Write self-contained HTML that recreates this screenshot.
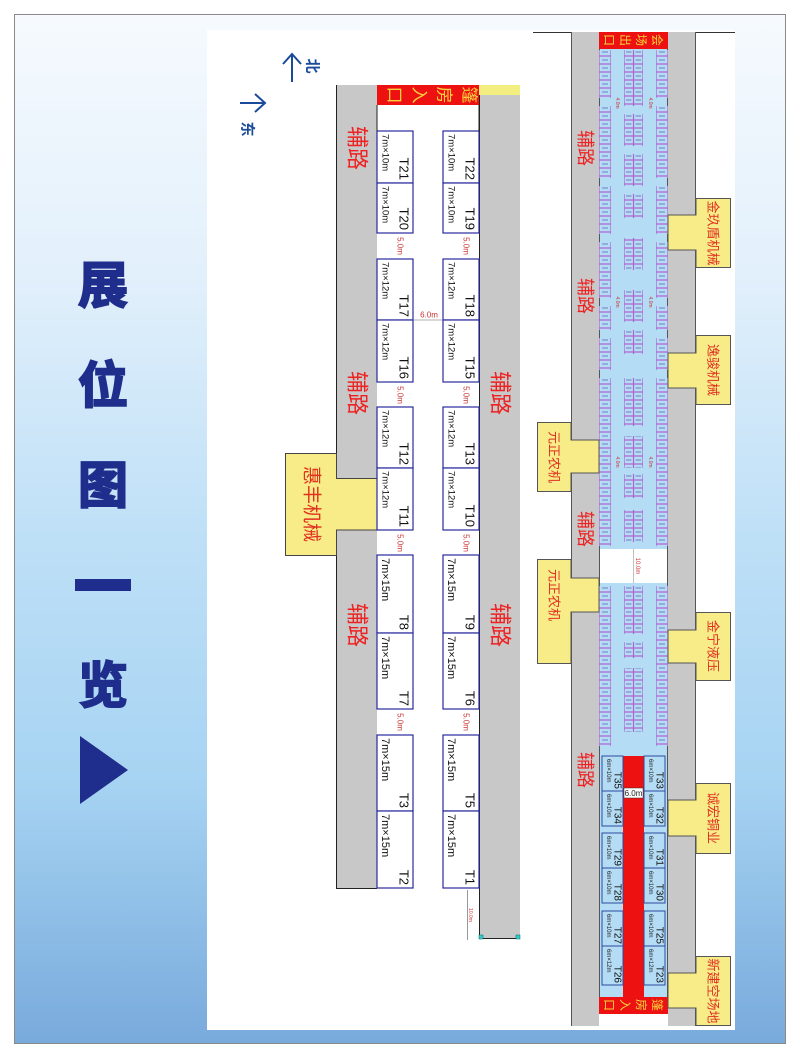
<!DOCTYPE html>
<html><head><meta charset="utf-8"><style>
html,body{margin:0;padding:0;background:#fff;width:800px;height:1058px;overflow:hidden}
#f{position:absolute;left:14px;top:14px;width:772px;height:1030px;border:1px solid #8a8a8a;box-sizing:border-box;background:linear-gradient(180deg,#f6fafe 0%,#e2f0fb 25%,#bfe0f7 50%,#a6d3f2 75%,#78aadc 100%)}
svg{position:absolute;left:0;top:0}
text{font-family:"Liberation Sans","Noto Sans CJK SC",sans-serif}
</style></head><body>
<div id="f"></div>
<svg width="800" height="1058" viewBox="0 0 800 1058">
<defs>
<pattern id="p1" x="599" y="0" width="12" height="8" patternUnits="userSpaceOnUse"><rect x="0.3" y="0.3" width="11.4" height="7.4" fill="#b5dcf5" stroke="#b060d0" stroke-width=".6"/><line x1="3" y1="4" x2="9" y2="4" stroke="#5a6aaa" stroke-width=".8"/></pattern>
<pattern id="p2" x="624" y="0" width="9.5" height="8" patternUnits="userSpaceOnUse"><rect x="0.3" y="0.3" width="8.9" height="7.4" fill="#b5dcf5" stroke="#b060d0" stroke-width=".6"/><line x1="2" y1="4" x2="7.5" y2="4" stroke="#5a6aaa" stroke-width=".8"/></pattern>
<pattern id="p3" x="656" y="0" width="12" height="8" patternUnits="userSpaceOnUse"><rect x="0.3" y="0.3" width="11.4" height="7.4" fill="#b5dcf5" stroke="#b060d0" stroke-width=".6"/><line x1="3" y1="4" x2="9" y2="4" stroke="#5a6aaa" stroke-width=".8"/></pattern>
</defs>
<rect x="207" y="30" width="528" height="1000" fill="#fff"/>
<!-- title -->
<g fill="#1f2d8c" stroke="#1f2d8c" stroke-width="2" font-weight="bold" font-size="50" text-anchor="middle" font-family="'Noto Sans CJK SC',sans-serif">
<text x="103" y="303">展</text>
<text x="103" y="403">位</text>
<text x="103" y="503">图</text>
<text x="103" y="703">览</text>
</g>
<rect x="75" y="579" width="56" height="12" fill="#1f2d8c"/>
<polygon points="80,736 128,770 80,804" fill="#1f2d8c"/>
<!-- compass -->
<g stroke="#1a4a9a" stroke-width="2" fill="none">
<line x1="292" y1="82" x2="292" y2="54"/><polyline points="283,64 292,54 301,64"/>
<line x1="240" y1="103" x2="264" y2="103"/><polyline points="255,94 265,103 255,112"/>
</g>
<text transform="translate(312,66) rotate(90)" dominant-baseline="central" text-anchor="middle" font-size="15" font-weight="bold" fill="#1a4a9a">北</text>
<text transform="translate(247,129) rotate(90)" dominant-baseline="central" text-anchor="middle" font-size="15" font-weight="bold" fill="#1a4a9a">东</text>

<!-- LEFT DIAGRAM -->
<rect x="336" y="85" width="41" height="393" fill="#c8c8c8"/>
<rect x="336" y="530" width="41" height="358" fill="#c8c8c8"/>
<line x1="336.5" y1="85" x2="336.5" y2="478" stroke="#222"/>
<line x1="336.5" y1="530" x2="336.5" y2="888" stroke="#222"/>
<line x1="336" y1="888.5" x2="377" y2="888.5" stroke="#222"/>
<rect x="479" y="85" width="41" height="853" fill="#c8c8c8"/>
<line x1="479.5" y1="95" x2="479.5" y2="938" stroke="#222"/>
<line x1="481" y1="938.5" x2="518" y2="938.5" stroke="#222"/>
<rect x="479" y="85" width="41" height="10" fill="#f2ee80"/>
<rect x="479" y="935" width="4" height="4" fill="#3cc" stroke="#066" stroke-width=".5"/>
<rect x="516" y="935" width="4" height="4" fill="#3cc" stroke="#066" stroke-width=".5"/>
<line x1="467.5" y1="890" x2="467.5" y2="940" stroke="#999"/>
<text transform="translate(470,915) rotate(90)" dominant-baseline="central" text-anchor="middle" font-size="5" fill="#c33">10.0m</text>
<rect x="377" y="85" width="102" height="20" fill="#ee1111"/>
<g fill="#f5d23c" font-size="17" dominant-baseline="central" text-anchor="middle">
<text transform="translate(469,95) rotate(90)">篷</text>
<text transform="translate(444,95) rotate(90)">房</text>
<text transform="translate(419,95) rotate(90)">入</text>
<text transform="translate(394,95) rotate(90)">口</text>
</g>
<path d="M285.5,453.5 H336.5 V478.5 H377 V530 H336.5 V555.5 H285.5 Z" fill="#f7ec88" stroke="#444"/>
<text transform="translate(311,504) rotate(90)" dominant-baseline="central" text-anchor="middle" font-size="19" fill="#e03020">惠丰机械</text>
<g fill="#ee2222" font-size="22">
<text transform="translate(357,148) rotate(90)" dominant-baseline="central" text-anchor="middle">辅路</text>
<text transform="translate(357,393) rotate(90)" dominant-baseline="central" text-anchor="middle">辅路</text>
<text transform="translate(357,625) rotate(90)" dominant-baseline="central" text-anchor="middle">辅路</text>
<text transform="translate(500,393) rotate(90)" dominant-baseline="central" text-anchor="middle">辅路</text>
<text transform="translate(500,625) rotate(90)" dominant-baseline="central" text-anchor="middle">辅路</text>
</g>
<g fill="#fff" stroke="#2a2aa0" stroke-width="1.2">
<rect x="377" y="131" width="36" height="52"/><rect x="377" y="183" width="36" height="50"/>
<rect x="377" y="259" width="36" height="61"/><rect x="377" y="320" width="36" height="62"/>
<rect x="377" y="407" width="36" height="61"/><rect x="377" y="468" width="36" height="62"/>
<rect x="377" y="555" width="36" height="78"/><rect x="377" y="633" width="36" height="76"/>
<rect x="377" y="735" width="36" height="76"/><rect x="377" y="811" width="36" height="77"/>
<rect x="443" y="131" width="36" height="52"/><rect x="443" y="183" width="36" height="50"/>
<rect x="443" y="259" width="36" height="61"/><rect x="443" y="320" width="36" height="62"/>
<rect x="443" y="407" width="36" height="61"/><rect x="443" y="468" width="36" height="62"/>
<rect x="443" y="555" width="36" height="78"/><rect x="443" y="633" width="36" height="76"/>
<rect x="443" y="735" width="36" height="76"/><rect x="443" y="811" width="36" height="77"/>
</g>
<line x1="377" y1="105" x2="377" y2="131" stroke="#222"/><line x1="479" y1="105" x2="479" y2="131" stroke="#222"/>
<g font-size="9.5" fill="#111" dominant-baseline="central">
<text transform="translate(385,134) rotate(90)">7m×10m</text><text transform="translate(385,186) rotate(90)">7m×10m</text>
<text transform="translate(385,262) rotate(90)">7m×12m</text><text transform="translate(385,323) rotate(90)">7m×12m</text>
<text transform="translate(385,410) rotate(90)">7m×12m</text><text transform="translate(385,471) rotate(90)">7m×12m</text>
<text transform="translate(385,558) rotate(90)" font-size="11">7m×15m</text><text transform="translate(385,636) rotate(90)" font-size="11">7m×15m</text>
<text transform="translate(385,738) rotate(90)" font-size="11">7m×15m</text><text transform="translate(385,814) rotate(90)" font-size="11">7m×15m</text>
<text transform="translate(451,134) rotate(90)">7m×10m</text><text transform="translate(451,186) rotate(90)">7m×10m</text>
<text transform="translate(451,262) rotate(90)">7m×12m</text><text transform="translate(451,323) rotate(90)">7m×12m</text>
<text transform="translate(451,410) rotate(90)">7m×12m</text><text transform="translate(451,471) rotate(90)">7m×12m</text>
<text transform="translate(451,558) rotate(90)" font-size="11">7m×15m</text><text transform="translate(451,636) rotate(90)" font-size="11">7m×15m</text>
<text transform="translate(451,738) rotate(90)" font-size="11">7m×15m</text><text transform="translate(451,814) rotate(90)" font-size="11">7m×15m</text>
</g>
<g font-size="13" fill="#111" dominant-baseline="central" text-anchor="end">
<text transform="translate(404,180) rotate(90)">T21</text><text transform="translate(404,230) rotate(90)">T20</text>
<text transform="translate(404,317) rotate(90)">T17</text><text transform="translate(404,379) rotate(90)">T16</text>
<text transform="translate(404,465) rotate(90)">T12</text><text transform="translate(404,527) rotate(90)">T11</text>
<text transform="translate(404,630) rotate(90)">T8</text><text transform="translate(404,706) rotate(90)">T7</text>
<text transform="translate(404,808) rotate(90)">T3</text><text transform="translate(404,885) rotate(90)">T2</text>
<text transform="translate(470,180) rotate(90)">T22</text><text transform="translate(470,230) rotate(90)">T19</text>
<text transform="translate(470,317) rotate(90)">T18</text><text transform="translate(470,379) rotate(90)">T15</text>
<text transform="translate(470,465) rotate(90)">T13</text><text transform="translate(470,527) rotate(90)">T10</text>
<text transform="translate(470,630) rotate(90)">T9</text><text transform="translate(470,706) rotate(90)">T6</text>
<text transform="translate(470,808) rotate(90)">T5</text><text transform="translate(470,885) rotate(90)">T1</text>
</g>
<g font-size="8" fill="#c33" dominant-baseline="central" text-anchor="middle">
<text transform="translate(400,246) rotate(90)">5.0m</text><text transform="translate(400,395) rotate(90)">5.0m</text>
<text transform="translate(400,543) rotate(90)">5.0m</text><text transform="translate(400,722) rotate(90)">5.0m</text>
<text transform="translate(466,246) rotate(90)">5.0m</text><text transform="translate(466,395) rotate(90)">5.0m</text>
<text transform="translate(466,543) rotate(90)">5.0m</text><text transform="translate(466,722) rotate(90)">5.0m</text>
<text x="429" y="315" font-size="8">6.0m</text>
</g>
<line x1="414" y1="320" x2="442" y2="320" stroke="#999" stroke-width=".8"/>

<!-- RIGHT DIAGRAM -->
<line x1="533" y1="32.5" x2="735" y2="32.5" stroke="#333"/>
<rect x="571" y="32" width="28" height="994" fill="#c8c8c8"/>
<rect x="668" y="32" width="28" height="994" fill="#c8c8c8"/>
<line x1="571.5" y1="32" x2="571.5" y2="1026" stroke="#555"/>
<line x1="695.5" y1="32" x2="695.5" y2="1026" stroke="#555"/>
<rect x="599" y="49" width="69" height="500" fill="#b5dcf5"/>
<rect x="599" y="583" width="69" height="414" fill="#b5dcf5"/>
<rect x="599" y="549" width="69" height="34" fill="#fff"/>
<line x1="599.5" y1="32" x2="599.5" y2="1026" stroke="#555"/>
<line x1="667.5" y1="32" x2="667.5" y2="1026" stroke="#555"/>
<rect x="599" y="1014" width="69" height="12" fill="#fff"/>
<line x1="633.5" y1="549" x2="633.5" y2="583" stroke="#999" stroke-width=".6"/>
<text transform="translate(637,566) rotate(90)" text-anchor="middle" dominant-baseline="central" font-size="6" fill="#c33">10.0m</text>
<rect x="599" y="32" width="69" height="17" fill="#ee1111"/>
<g fill="#f5d23c" font-size="12" dominant-baseline="central" text-anchor="middle">
<text transform="translate(657,40) rotate(90)">会</text>
<text transform="translate(641,40) rotate(90)">场</text>
<text transform="translate(625,40) rotate(90)">出</text>
<text transform="translate(609,40) rotate(90)">口</text>
</g>
<rect x="599" y="997" width="69" height="17" fill="#ee1111"/>
<g fill="#f5d23c" font-size="12" dominant-baseline="central" text-anchor="middle">
<text transform="translate(657,1005) rotate(90)">篷</text>
<text transform="translate(641,1005) rotate(90)">房</text>
<text transform="translate(625,1005) rotate(90)">入</text>
<text transform="translate(609,1005) rotate(90)">口</text>
</g>
<g fill="url(#p1)">
<rect x="599" y="50" width="12" height="48"/><rect x="599" y="106" width="12" height="72"/><rect x="599" y="186" width="12" height="48"/><rect x="599" y="242" width="12" height="56"/><rect x="599" y="306" width="12" height="24"/><rect x="599" y="338" width="12" height="32"/><rect x="599" y="378" width="12" height="168"/><rect x="599" y="586" width="12" height="160"/>
</g>
<g fill="url(#p3)">
<rect x="656" y="50" width="12" height="48"/><rect x="656" y="106" width="12" height="72"/><rect x="656" y="186" width="12" height="48"/><rect x="656" y="242" width="12" height="56"/><rect x="656" y="306" width="12" height="24"/><rect x="656" y="338" width="12" height="32"/><rect x="656" y="378" width="12" height="168"/><rect x="656" y="586" width="12" height="160"/>
</g>
<g fill="url(#p2)">
<rect x="624" y="50" width="19" height="56"/><rect x="624" y="114" width="19" height="32"/><rect x="624" y="154" width="19" height="32"/><rect x="624" y="194" width="19" height="24"/><rect x="624" y="238" width="19" height="32"/><rect x="624" y="290" width="19" height="32"/><rect x="624" y="330" width="19" height="24"/><rect x="624" y="378" width="19" height="48"/><rect x="624" y="436" width="19" height="32"/><rect x="624" y="474" width="19" height="24"/><rect x="624" y="510" width="19" height="32"/><rect x="624" y="586" width="19" height="48"/><rect x="624" y="642" width="19" height="16"/><rect x="624" y="668" width="19" height="64"/>
</g>
<g font-size="5" fill="#c33" dominant-baseline="central" text-anchor="middle">
<text transform="translate(617,103) rotate(90)">4.0m</text><text transform="translate(650,103) rotate(90)">4.0m</text>
<text transform="translate(617,302) rotate(90)">4.0m</text><text transform="translate(650,302) rotate(90)">4.0m</text>
<text transform="translate(617,462) rotate(90)">4.0m</text><text transform="translate(650,462) rotate(90)">4.0m</text>
</g>
<rect x="623" y="756" width="21" height="241" fill="#ee1111"/>
<rect x="624" y="788" width="19" height="10" fill="#fff" stroke="#333" stroke-width=".5"/>
<text x="633.5" y="796" text-anchor="middle" font-size="8" fill="#222">6.0m</text>
<g fill="#b5dcf5" stroke="#2a4aa0" stroke-width="1">
<rect x="602" y="756" width="21" height="35"/><rect x="602" y="791" width="21" height="35"/><rect x="602" y="833" width="21" height="35"/><rect x="602" y="868" width="21" height="35"/><rect x="602" y="911" width="21" height="35"/><rect x="602" y="946" width="21" height="39"/>
<rect x="644" y="756" width="21" height="35"/><rect x="644" y="791" width="21" height="35"/><rect x="644" y="833" width="21" height="35"/><rect x="644" y="868" width="21" height="35"/><rect x="644" y="911" width="21" height="35"/><rect x="644" y="946" width="21" height="39"/>
</g>
<g font-size="6" fill="#222" dominant-baseline="central">
<text transform="translate(608,759) rotate(90)">6m×10m</text><text transform="translate(608,794) rotate(90)">6m×10m</text><text transform="translate(608,836) rotate(90)">6m×10m</text><text transform="translate(608,871) rotate(90)">6m×10m</text><text transform="translate(608,914) rotate(90)">6m×10m</text><text transform="translate(608,949) rotate(90)">6m×12m</text>
<text transform="translate(650,759) rotate(90)">6m×10m</text><text transform="translate(650,794) rotate(90)">6m×10m</text><text transform="translate(650,836) rotate(90)">6m×10m</text><text transform="translate(650,871) rotate(90)">6m×10m</text><text transform="translate(650,914) rotate(90)">6m×10m</text><text transform="translate(650,949) rotate(90)">6m×12m</text>
</g>
<g font-size="10" fill="#111" dominant-baseline="central" text-anchor="end">
<text transform="translate(617,789) rotate(90)">T35</text><text transform="translate(617,824) rotate(90)">T34</text><text transform="translate(617,866) rotate(90)">T29</text><text transform="translate(617,901) rotate(90)">T28</text><text transform="translate(617,944) rotate(90)">T27</text><text transform="translate(617,983) rotate(90)">T26</text>
<text transform="translate(659,789) rotate(90)">T33</text><text transform="translate(659,824) rotate(90)">T32</text><text transform="translate(659,866) rotate(90)">T31</text><text transform="translate(659,901) rotate(90)">T30</text><text transform="translate(659,944) rotate(90)">T25</text><text transform="translate(659,983) rotate(90)">T23</text>
</g>
<g fill="#f7ec88" stroke="#555">
<path d="M730.5,198.5 H696 V215 H668 V250 H696 V267.5 H730.5 Z"/>
<path d="M730.5,335.5 H696 V353 H668 V388 H696 V404.5 H730.5 Z"/>
<path d="M730.5,612.5 H696 V630 H668 V663 H696 V680.5 H730.5 Z"/>
<path d="M730.5,783.5 H696 V800 H668 V836 H696 V853.5 H730.5 Z"/>
<path d="M730.5,956.5 H696 V973 H668 V1008 H696 V1025.5 H730.5 Z"/>
<path d="M537.5,422.5 H571 V440 H599 V473 H571 V491.5 H537.5 Z"/>
<path d="M537.5,559.5 H571 V578 H599 V612 H571 V663.5 H537.5 Z"/>
</g>
<g fill="#e03020" font-size="13" dominant-baseline="central" text-anchor="middle">
<text transform="translate(713,233) rotate(90)">金玖盾机械</text>
<text transform="translate(713,370) rotate(90)">逸骏机械</text>
<text transform="translate(713,646) rotate(90)">金宁液压</text>
<text transform="translate(713,818) rotate(90)">诚宏铜业</text>
<text transform="translate(713,991) rotate(90)">新建空场地</text>
<text transform="translate(554,457) rotate(90)">元正农机</text>
<text transform="translate(554,595) rotate(90)">元正农机</text>
</g>
<g fill="#ee2222" font-size="18" dominant-baseline="central" text-anchor="middle">
<text transform="translate(585,148) rotate(90)">辅路</text>
<text transform="translate(585,296) rotate(90)">辅路</text>
<text transform="translate(585,529) rotate(90)">辅路</text>
<text transform="translate(585,770) rotate(90)">辅路</text>
</g>
</svg>
</body></html>
